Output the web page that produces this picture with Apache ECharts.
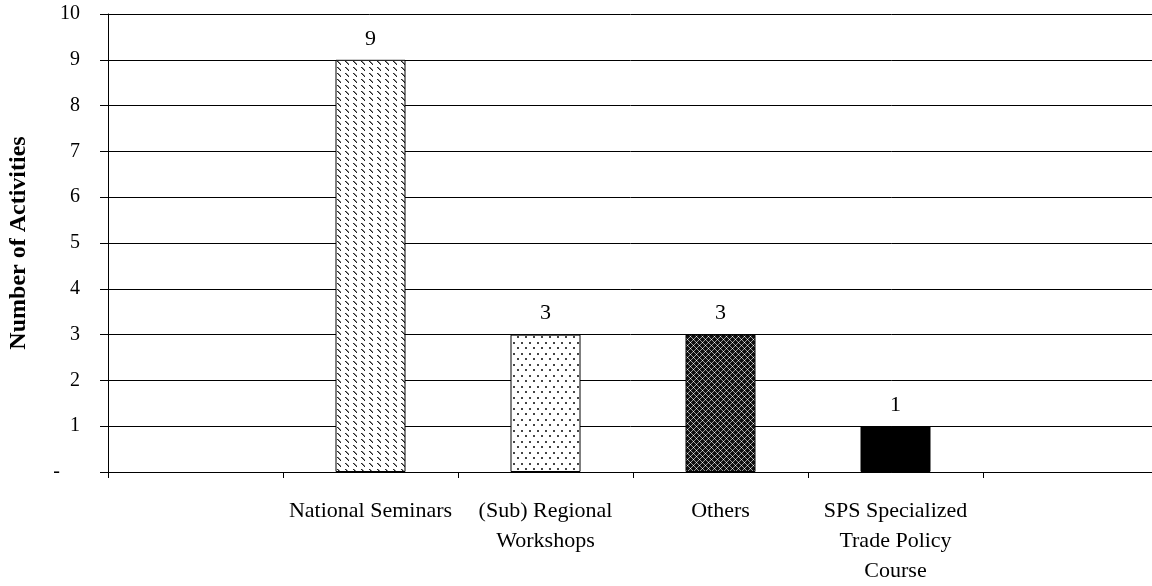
<!DOCTYPE html>
<html><head><meta charset="utf-8">
<script src="https://cdn.jsdelivr.net/npm/echarts@6/dist/echarts.min.js"></script>
<style>html,body{margin:0;padding:0;background:#fff}#c{width:1152px;height:586px}</style>
</head><body><div id="c"></div>
<script>
const categories = ['', 'National Seminars', '(Sub) Regional\nWorkshops', 'Others', 'SPS Specialized\nTrade Policy\nCourse', ''];
const values = ['-', 9, 3, 3, 1, '-'];
const yTicks = { min: 0, max: 10, interval: 1 };

function tile(w, h, draw) {
  const c = document.createElement('canvas');
  c.width = w; c.height = h;
  const g = c.getContext('2d');
  g.fillStyle = '#fff'; g.fillRect(0, 0, w, h);
  draw(g);
  return c;
}
function px(g, x, y, col) { g.fillStyle = col; g.fillRect(x, y, 1, 1); }

const hatch = tile(8, 6, g => {
  for (let i = 0; i < 4; i++) { px(g, i + 1, i + 1, '#222'); }
  for (let i = 0; i < 3; i++) { px(g, i + 2, i + 1, '#888'); }
});
const dots = tile(8, 11, g => {
  g.fillStyle = '#444'; g.fillRect(1, 1, 2, 2); g.fillRect(5, 6, 2, 2);
});
const cross = tile(6, 6, g => {
  g.fillStyle = '#111'; g.fillRect(0, 0, 6, 6);
  for (let x = 0; x < 6; x++) for (let y = 0; y < 6; y++) {
    const a = (x + y) % 6 === 0, b = ((x - y) % 6 + 6) % 6 === 0;
    if (a && b) px(g, x, y, '#eee');
    else if (a || b) px(g, x, y, '#999');
  }
});
const fills = [null, { image: hatch, repeat: 'repeat' }, { image: dots, repeat: 'repeat' }, { image: cross, repeat: 'repeat' }, '#000', null];

const font = '"Liberation Serif", "Times New Roman", serif';
const chart = echarts.init(document.getElementById('c'), null, { renderer: 'canvas' });
chart.setOption({
  animation: false,
  backgroundColor: '#fff',
  textStyle: { fontFamily: font, color: '#000' },
  grid: { left: 108, top: 14, width: 1050, bottom: 114, containLabel: false, outerBoundsMode: 'none' },
  xAxis: {
    type: 'category', data: categories,
    axisLine: { lineStyle: { color: '#000', width: 1 } },
    axisTick: { show: true, length: 6, lineStyle: { color: '#000' } },
    axisLabel: { fontFamily: font, fontSize: 22, color: '#000', margin: 24, lineHeight: 30, interval: 0 }
  },
  yAxis: {
    type: 'value', min: yTicks.min, max: yTicks.max, interval: yTicks.interval,
    name: 'Number of Activities', nameLocation: 'middle', nameGap: 77,
    nameTextStyle: { fontFamily: font, fontSize: 24, fontWeight: 'bold', color: '#000' },
    axisLine: { show: true, lineStyle: { color: '#000', width: 1 } },
    axisTick: { show: true, length: 8, lineStyle: { color: '#000' } },
    splitLine: { show: true, lineStyle: { color: '#000', width: 1 } },
    axisLabel: {
      fontFamily: font, fontSize: 20, color: '#000', margin: 28,
      formatter: v => v === 0 ? '{d|-}' : String(v),
      rich: { d: { fontFamily: font, fontSize: 20, color: '#000', padding: [0, 20, 0, 0] } }
    }
  },
  series: [{
    type: 'bar', barWidth: '40%',
    data: values.map((v, i) => ({ value: v, itemStyle: { color: fills[i] || '#fff', borderColor: '#000', borderWidth: 1 } })),
    label: { show: true, position: 'top', distance: 10, fontFamily: font, fontSize: 22, color: '#000' }
  }]
});
</script></body></html>
